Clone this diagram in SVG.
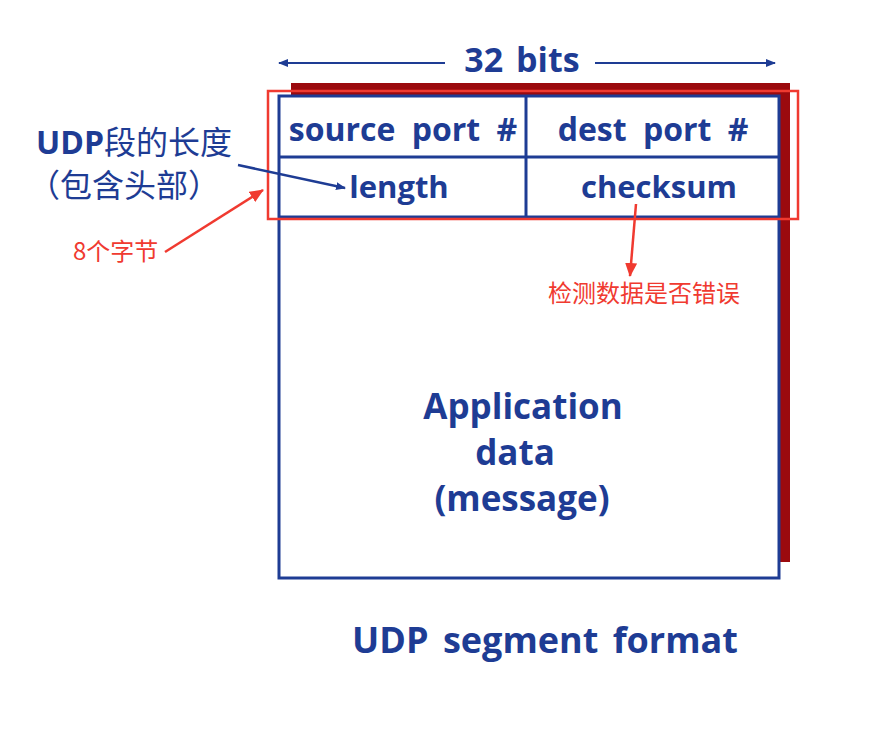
<svg xmlns="http://www.w3.org/2000/svg" width="894" height="744" viewBox="0 0 894 744">
<style>
.b{fill:#1e3c94;font-family:"Open Sans","Liberation Sans",sans-serif;font-weight:bold;}
.c{fill:#1e3c94;font-family:"Noto Sans CJK SC",sans-serif;}
.r{fill:#f03a30;font-family:"Noto Sans CJK SC",sans-serif;font-size:24px;}
.box{fill:none;stroke:#1e3c94;stroke-width:3;}
</style>
<defs>
<marker id="ab" markerWidth="10" markerHeight="8" refX="9" refY="4" orient="auto" markerUnits="userSpaceOnUse"><path d="M0,0 L10,4 L0,8 z" fill="#1e3c94"/></marker>
<marker id="ar" markerWidth="14" markerHeight="12" refX="13" refY="6" orient="auto" markerUnits="userSpaceOnUse"><path d="M0,0 L14,6 L0,12 z" fill="#f03a30"/></marker>
</defs>
<rect width="894" height="744" fill="#fff"/>
<g id="segment">
<rect x="291" y="83" width="499" height="479" fill="#9b0a0e"/>
<rect x="279" y="96" width="500" height="482" fill="#fff" stroke="#1e3c94" stroke-width="3"/>
<line x1="279" y1="157" x2="779" y2="157" class="box"/>
<line x1="279" y1="217" x2="779" y2="217" class="box"/>
<line x1="526" y1="96" x2="526" y2="217" class="box"/>
<text class="b" x="403" y="141" font-size="32" word-spacing="8" text-anchor="middle">source port #</text>
<text class="b" x="653" y="141" font-size="32" word-spacing="8" text-anchor="middle">dest port #</text>
<text class="b" x="399" y="198" font-size="31" text-anchor="middle">length</text>
<text class="b" x="659" y="198" font-size="31" text-anchor="middle">checksum</text>
<text class="b" x="523" y="419" font-size="35" text-anchor="middle">Application</text>
<text class="b" x="515" y="465" font-size="35" text-anchor="middle">data</text>
<text class="b" x="522" y="511" font-size="35" text-anchor="middle">(message)</text>
</g>
<g id="width-label">
<text class="b" x="522" y="72" font-size="34" word-spacing="4" text-anchor="middle">32 bits</text>
</g>
<g id="highlight">
<rect x="268" y="91" width="530" height="128" fill="none" stroke="#f03a30" stroke-width="2.5"/>
</g>
<g id="title">
<text class="b" x="545" y="653" font-size="36" word-spacing="5" text-anchor="middle">UDP segment format</text>
</g>
<g id="length-note">
<text class="c" x="36" y="154" font-size="32"><tspan class="b">UDP</tspan>段的长度</text>
<text class="c" x="28" y="197" font-size="32">（包含头部）</text>
</g>
<g id="bytes-note">
<text class="r" x="73" y="260">8个字节</text>
</g>
<g id="checksum-note">
<text class="r" x="548" y="302">检测数据是否错误</text>
</g>
<g id="connectors" fill="none">
<line x1="445" y1="63" x2="279" y2="63" stroke="#1e3c94" stroke-width="2" marker-end="url(#ab)"/>
<line x1="595" y1="63" x2="775" y2="63" stroke="#1e3c94" stroke-width="2" marker-end="url(#ab)"/>
<line x1="238" y1="165" x2="345" y2="188" stroke="#1e3c94" stroke-width="2.5" marker-end="url(#ab)"/>
<line x1="165" y1="252" x2="263" y2="190" stroke="#f03a30" stroke-width="2.5" marker-end="url(#ar)"/>
<line x1="636" y1="204" x2="630" y2="276" stroke="#f03a30" stroke-width="2.5" marker-end="url(#ar)"/>
</g>
</svg>
